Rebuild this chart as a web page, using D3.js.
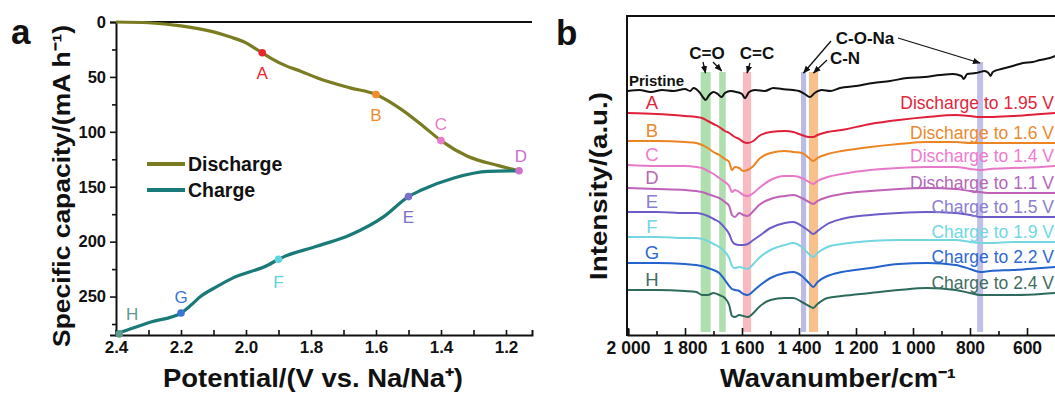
<!DOCTYPE html>
<html>
<head>
<meta charset="utf-8">
<script src="https://cdn.jsdelivr.net/npm/d3@7"></script>
<style>
  html, body { margin: 0; padding: 0; background: #fff; }
  svg { display: block; }
  text { font-family: "Liberation Sans", Arial, sans-serif; }
</style>
</head>
<body>
<svg id="chart" width="1055" height="394"></svg>
<script>
// ---------- Panel a: charge/discharge profile ----------
const dischargeV   = [2.40, 2.30, 2.20, 2.10, 2.05, 2.00, 1.975, 1.95, 1.92, 1.88, 1.83, 1.78, 1.68, 1.60, 1.52, 1.45, 1.40, 1.32, 1.22, 1.16];
const dischargeCap = [0, 0.7, 3.5, 9, 13.5, 19, 23.5, 28, 33.5, 39.5, 45, 51, 60, 66, 80, 96, 108, 122, 131, 135.5];
const chargeV      = [1.16, 1.255, 1.36, 1.46, 1.50, 1.575, 1.68, 1.78, 1.90, 1.93, 2.04, 2.09, 2.14, 2.17, 2.20, 2.29, 2.39, 2.40];
const chargeCap    = [135.5, 136, 142, 153, 159, 177, 194, 204, 216, 221, 233, 241, 250, 258, 265, 273, 283, 284];

const stateNames = ["A", "B", "C", "D", "E", "F", "G", "H"];
const stateV     = [1.95, 1.60, 1.40, 1.16, 1.50, 1.90, 2.20, 2.39];
const stateCap   = [28, 66, 108, 135.5, 159, 216, 265, 284];

const potentialTicks = [2.4, 2.2, 2.0, 1.8, 1.6, 1.4, 1.2];
const capacityTicks  = [0, 50, 100, 150, 200, 250];

// ---------- Panel b: FTIR spectra ----------
const wavenumbers = [2000, 1900, 1800, 1760, 1740, 1720, 1700, 1680, 1660, 1645, 1635, 1625, 1610, 1595, 1580, 1560,
                     1540, 1500, 1450, 1420, 1390, 1365, 1350, 1335, 1300, 1250, 1150, 1050, 950, 850, 800, 765, 730, 650, 550, 500];
const specA = [222,221,219,218,217,214,211,208,204,202,200,198,196,193,192,194,199,203,204,203,200,198,198,200,203,205,211,215,218,220,219,218,218,219,221,222];
const specB = [194,194,193,192,190,187,183,180,176,173,165,168,167,164,165,169,176,182,184,183,182,177,174,177,181,184,188,191,193,193,192,192,192,192,192,192];
const specC = [170,169,169,168,167,164,161,157,153,149,143,145,143,140,139,142,147,155,159,159,157,153,151,154,158,161,165,167,168,168,166,165,166,167,168,169];
const specD = [147,146,145,144,143,141,139,137,133,129,120,118,122,120,119,124,130,136,139,140,137,133,131,134,138,141,144,146,147,146,144,143,142,142,142,142];
const specE = [123,123,122,122,121,119,116,113,107,101,94,91,90,90,91,95,99,107,112,113,109,104,101,104,111,116,120,122,123,122,120,118,118,118,118,118];
const specF = [98,98,97,97,96,94,91,88,83,77,69,67,68,67,66,71,77,85,90,92,88,81,78,82,88,91,94,95,95,95,93,92,92,93,93,93];
const specG = [72,72,71,70,69,67,65,62,55,49,46,45,44,41,40,44,49,57,62,63,59,52,48,53,59,63,67,71,72,70,66,63,64,65,67,68];
const specH = [45,45,44,43,40,40,42,40,37,30,19,18,20,19,18,22,28,35,37,37,33,29,27,31,37,39,42,45,47,45,42,40,40,40,41,42];

const pristineWn = [2000, 1960, 1920, 1880, 1840, 1800, 1782, 1770, 1750, 1735, 1728, 1715, 1700, 1685, 1672, 1660, 1640, 1620,
                    1600, 1590, 1575, 1554, 1520, 1490, 1460, 1421, 1400, 1380, 1362, 1345, 1320, 1290, 1256, 1200, 1140, 1080,
                    1021, 960, 905, 860, 830, 822, 810, 780, 765, 750, 735, 728, 720, 690, 650, 614, 580, 554, 520, 500];
const pristine   = [244, 245, 243, 245, 244, 246, 244, 247, 243, 237, 235, 240, 243, 241, 238, 242, 244, 243,
                    241, 237, 243, 245, 244, 247, 246, 245, 244, 241, 238, 242, 245, 244, 247, 249, 252, 254,
                    257, 258, 260, 261, 259, 256, 261, 262, 263, 264, 262, 259, 263, 266, 269, 272, 273, 275, 277, 279];

const seriesLetters = ["A", "B", "C", "D", "E", "F", "G", "H"];
const seriesNames = ["Discharge to 1.95 V", "Discharge to 1.6 V", "Discharge to 1.4 V", "Discharge to 1.1 V",
                     "Charge to 1.5 V", "Charge to 1.9 V", "Charge to 2.2 V", "Charge to 2.4 V"];
const seriesValues = [specA, specB, specC, specD, specE, specF, specG, specH];

const wavenumberTicks = [2000, 1800, 1600, 1400, 1200, 1000, 800, 600];

// Band assignments (wavenumber ranges)
const bandLow  = [1710, 1657, 1568, 1375, 1333, 754];
const bandHigh = [1745, 1680, 1597, 1393, 1365, 775];

// ---------- Styling ----------
const stateColors  = ["#e8262e", "#f08a2a", "#e87ac8", "#cf6fcf", "#7a70cc", "#62d2dc", "#3a74d4", "#5e9a90"];
const spectraColors = ["#e0203a", "#ec8424", "#e878c8", "#bf62b8", "#6b5cc8", "#74d6e0", "#2462cc", "#2e6a5c"];
const labelColors   = ["#e2263a", "#ea8a30", "#f07ad0", "#b567b8", "#8a80d0", "#70d8e2", "#2e6ad0", "#3f6e62"];
const bandColors = ["rgba(110,195,110,0.55)", "rgba(110,195,110,0.55)", "rgba(245,150,160,0.65)",
                    "rgba(150,150,220,0.65)", "rgba(245,165,90,0.7)", "rgba(150,150,220,0.6)"];
const dischargeColor = "#7b7c22";
const chargeColor = "#1a7a78";

const svg = d3.select("#chart");
const font = '"Liberation Sans", Arial, sans-serif';

// ======================= Panel a =======================
const xa = d3.scaleLinear().domain([2.4, 1.12]).range([116, 532]);
const ya = d3.scaleLinear().domain([0, 285]).range([22, 335]);
const ga = svg.append("g");

// Frame: top border
ga.append("line").attr("x1", 116).attr("x2", 532).attr("y1", 22).attr("y2", 22)
  .attr("stroke", "#111").attr("stroke-width", 2);

// x axis (ticks pointing into the plot)
const xAxisA = d3.axisBottom(xa).tickValues(d3.range(24, 11, -1).map(d => d / 10))
  .tickSize(-5).tickFormat(d => potentialTicks.some(t => Math.abs(t - d) < 1e-6) ? d3.format(".1f")(d) : "");
ga.append("g").attr("transform", "translate(0,335)").call(xAxisA)
  .call(g => {
    g.select(".domain").attr("stroke", "#111").attr("stroke-width", 2);
    g.selectAll(".tick line").attr("stroke", "#111").attr("stroke-width", 1.6);
    g.selectAll(".tick text").attr("font-family", font).attr("font-weight", "bold")
      .attr("font-size", 17).attr("fill", "#111").attr("dy", "0.9em").attr("y", 3);
  });

// y axis
const yAxisA = d3.axisLeft(ya).tickValues(d3.range(0, 286, 25)).tickSize(6).tickPadding(4)
  .tickFormat(d => capacityTicks.includes(d) ? d : "");
ga.append("g").attr("transform", "translate(116,0)").call(yAxisA)
  .call(g => {
    g.select(".domain").attr("stroke", "#111").attr("stroke-width", 2);
    g.selectAll(".tick line").attr("stroke", "#111").attr("stroke-width", 1.6)
      .attr("x2", d => capacityTicks.includes(d) ? -6 : -4);
    g.selectAll(".tick text").attr("font-family", font).attr("font-weight", "bold")
      .attr("font-size", 16.5).attr("fill", "#111");
  });

// Curves (points sorted by screen x for the monotone interpolation)
const lineA = d3.line().x(d => xa(d[0])).y(d => ya(d[1])).curve(d3.curveMonotoneX);
ga.append("path").datum(d3.zip(dischargeV, dischargeCap)).attr("d", lineA)
  .attr("fill", "none").attr("stroke", dischargeColor).attr("stroke-width", 3.2);
ga.append("path").datum(d3.zip(chargeV, chargeCap).reverse()).attr("d", lineA)
  .attr("fill", "none").attr("stroke", chargeColor).attr("stroke-width", 3.2);

// State points and their letters
const labelDx = [0, 0, 0, 2, 0, 0, 0, 13];
const labelDy = [21, 21, -16, -14, 21, 23, -16, -19];
stateNames.forEach((name, i) => {
  ga.append("circle").attr("cx", xa(stateV[i])).attr("cy", ya(stateCap[i])).attr("r", 3.8)
    .attr("fill", stateColors[i]);
  ga.append("text").attr("x", xa(stateV[i]) + labelDx[i]).attr("y", ya(stateCap[i]) + labelDy[i])
    .attr("text-anchor", "middle").attr("dominant-baseline", "central")
    .attr("font-size", 17).attr("fill", stateColors[i]).text(name);
});

// Legend
[["Discharge", dischargeColor, 164], ["Charge", chargeColor, 190]].forEach(([label, color, y]) => {
  ga.append("line").attr("x1", 147).attr("x2", 185).attr("y1", y).attr("y2", y)
    .attr("stroke", color).attr("stroke-width", 4);
  ga.append("text").attr("x", 188).attr("y", y).attr("dominant-baseline", "central")
    .attr("font-size", 19.5).attr("font-weight", "bold").attr("fill", "#111").text(label);
});

// Axis titles
ga.append("text").attr("transform", "translate(70,186) rotate(-90)").attr("text-anchor", "middle")
  .attr("font-size", 24.5).attr("font-weight", "bold").attr("fill", "#111")
  .attr("textLength", 322).attr("lengthAdjust", "spacingAndGlyphs")
  .text("Specific capacity/(mA h\u207B\u00B9)");
ga.append("text").attr("x", 313).attr("y", 387).attr("text-anchor", "middle")
  .attr("font-size", 25).attr("font-weight", "bold").attr("fill", "#111")
  .attr("textLength", 300).attr("lengthAdjust", "spacingAndGlyphs")
  .text("Potential/(V vs. Na/Na\u207A)");

ga.append("text").attr("x", 11).attr("y", 44).attr("font-family", '"Liberation Serif", "Times New Roman", serif')
  .attr("font-size", 35).attr("font-weight", "bold").attr("fill", "#111").text("a");

// ======================= Panel b =======================
const xb = d3.scaleLinear().domain([2000, 500]).range([628, 1055.5]);
const yb = d3.scaleLinear().domain([0, 320]).range([335, 15]);
const gb = svg.append("g");

// Assignment bands
bandLow.forEach((lo, i) => {
  const top = i === 5 ? 273 : 263;
  gb.append("rect").attr("x", xb(bandHigh[i])).attr("width", xb(lo) - xb(bandHigh[i]))
    .attr("y", yb(top)).attr("height", yb(3) - yb(top)).attr("fill", bandColors[i]);
});

// Spectra
const lineB = d3.line().x(d => xb(d[0])).y(d => yb(d[1])).curve(d3.curveMonotoneX);
gb.append("path").datum(d3.zip(pristineWn, pristine)).attr("d", lineB)
  .attr("fill", "none").attr("stroke", "#111").attr("stroke-width", 2);
seriesValues.forEach((vals, i) => {
  gb.append("path").datum(d3.zip(wavenumbers, vals)).attr("d", lineB)
    .attr("fill", "none").attr("stroke", spectraColors[i]).attr("stroke-width", 2);
  // letter on the left
  gb.append("text").attr("x", 652).attr("y", yb(vals[0] + 11)).attr("text-anchor", "middle")
    .attr("dominant-baseline", "central").attr("font-size", 18.5).attr("fill", labelColors[i])
    .text(seriesLetters[i]);
  // state description on the right
  gb.append("text").attr("x", 1054).attr("y", yb(vals[vals.length - 1] + 10.5)).attr("text-anchor", "end")
    .attr("dominant-baseline", "central").attr("font-size", 17.5).attr("fill", labelColors[i])
    .text(seriesNames[i]);
});
gb.append("text").attr("x", 629).attr("y", yb(pristine[0] + 11)).attr("dominant-baseline", "central")
  .attr("font-size", 15).attr("font-weight", "bold").attr("fill", "#111").text("Pristine");

// Frame
gb.append("line").attr("x1", 627).attr("x2", 1055).attr("y1", 16).attr("y2", 16)
  .attr("stroke", "#111").attr("stroke-width", 2);

const fmtWn = d => d >= 1000 ? `${Math.floor(d / 1000)} ${String(d % 1000).padStart(3, "0")}` : `${d}`;
const xAxisB = d3.axisBottom(xb).tickValues(d3.range(2000, 499, -100)).tickSize(-6)
  .tickFormat(d => wavenumberTicks.includes(d) ? fmtWn(d) : "");
gb.append("g").attr("transform", "translate(0,335)").call(xAxisB)
  .call(g => {
    g.select(".domain").attr("stroke", "#111").attr("stroke-width", 2);
    g.selectAll(".tick line").attr("stroke", "#111").attr("stroke-width", 1.6)
      .attr("y2", d => wavenumberTicks.includes(d) ? -7 : -4);
    g.selectAll(".tick text").attr("font-family", font).attr("font-weight", "bold")
      .attr("font-size", 17.5).attr("fill", "#111").attr("dy", "0.9em").attr("y", 3);
  });
gb.append("line").attr("x1", 627).attr("x2", 627).attr("y1", 15).attr("y2", 336)
  .attr("stroke", "#111").attr("stroke-width", 2);

// Band annotations with arrows
const defs = svg.append("defs");
defs.append("marker").attr("id", "arrow").attr("viewBox", "0 0 10 10").attr("refX", 9).attr("refY", 5)
  .attr("markerWidth", 6).attr("markerHeight", 6).attr("orient", "auto-start-reverse")
  .append("path").attr("d", "M0,1 L10,5 L0,9 z").attr("fill", "#111");

const annot = (x, y, label) => gb.append("text").attr("x", x).attr("y", y).attr("text-anchor", "middle")
  .attr("dominant-baseline", "central").attr("font-size", 17).attr("font-weight", "bold").attr("fill", "#111").text(label);
const arrow = (x1, y1, x2, y2) => gb.append("line").attr("x1", x1).attr("y1", y1).attr("x2", x2).attr("y2", y2)
  .attr("stroke", "#111").attr("stroke-width", 1.3).attr("marker-end", "url(#arrow)");

annot(707, 53, "C=O");
arrow(703, 62, xb(1728), yb(263) + 1);
arrow(713, 62, xb(1668) - 1, yb(263) - 1);
annot(757, 53, "C=C");
arrow(750, 63, xb(1582), yb(263) + 1);
annot(865, 38, "C-O-Na");
annot(845, 58, "C-N");
arrow(831, 41, xb(1384), yb(263) + 1);
arrow(827, 60, xb(1349), yb(263) + 1);
arrow(898, 38, xb(765), yb(273) + 1);

// Axis titles
gb.append("text").attr("transform", "translate(607,186) rotate(-90)").attr("text-anchor", "middle")
  .attr("font-size", 24.5).attr("font-weight", "bold").attr("fill", "#111")
  .attr("textLength", 188).attr("lengthAdjust", "spacingAndGlyphs").text("Intensity/(a.u.)");
gb.append("text").attr("x", 838).attr("y", 387).attr("text-anchor", "middle")
  .attr("font-size", 25).attr("font-weight", "bold").attr("fill", "#111")
  .attr("textLength", 236).attr("lengthAdjust", "spacingAndGlyphs").text("Wavanumber/cm\u207B\u00B9");

gb.append("text").attr("x", 556).attr("y", 45).attr("font-family", '"Liberation Serif", "Times New Roman", serif')
  .attr("font-size", 35).attr("font-weight", "bold").attr("fill", "#111").text("b");
</script>
</body>
</html>
